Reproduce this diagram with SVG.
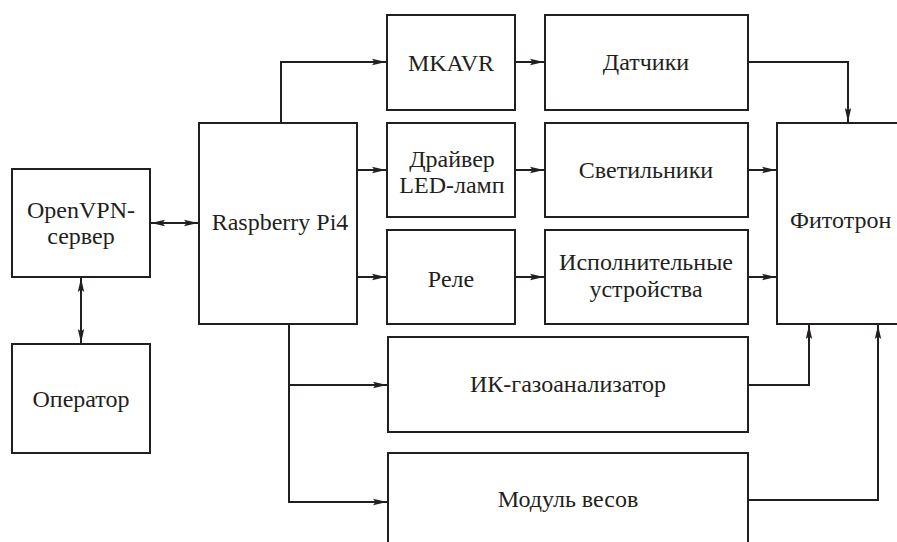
<svg xmlns="http://www.w3.org/2000/svg" width="897" height="542" viewBox="0 0 897 542">
<style>
  .box { fill: #ffffff; stroke: #231f20; stroke-width: 2; }
  .lbl { font-family: 'Liberation Serif', 'Times New Roman', Times, serif; font-size: 24px; fill: #231f20; text-anchor: middle; }
  .wire { fill: none; stroke: #231f20; stroke-width: 2; }
</style>
<defs>
  <marker id="arr" viewBox="0 0 14 8" refX="14" refY="4" markerWidth="14" markerHeight="8" markerUnits="userSpaceOnUse" orient="auto-start-reverse">
    <path d="M0,0.8 L14,4 L0,7.2 L2.5,4 Z" fill="#231f20"/>
  </marker>
</defs>
<rect width="897" height="542" fill="#ffffff"/>

<g id="connectors">
  <line class="wire" x1="151" y1="223" x2="198" y2="223" marker-start="url(#arr)" marker-end="url(#arr)"/>
  <line class="wire" x1="81" y1="278" x2="81" y2="343" marker-start="url(#arr)" marker-end="url(#arr)"/>
  <polyline class="wire" points="281,123 281,62 386,62" marker-end="url(#arr)"/>
  <line class="wire" x1="357" y1="170" x2="386" y2="170" marker-end="url(#arr)"/>
  <line class="wire" x1="357" y1="277" x2="386" y2="277" marker-end="url(#arr)"/>
  <line class="wire" x1="515" y1="62" x2="544" y2="62" marker-end="url(#arr)"/>
  <line class="wire" x1="515" y1="170" x2="544" y2="170" marker-end="url(#arr)"/>
  <line class="wire" x1="515" y1="277" x2="544" y2="277" marker-end="url(#arr)"/>
  <polyline class="wire" points="748,62 848,62 848,122" marker-end="url(#arr)"/>
  <line class="wire" x1="748" y1="170" x2="776" y2="170" marker-end="url(#arr)"/>
  <line class="wire" x1="748" y1="277" x2="776" y2="277" marker-end="url(#arr)"/>
  <line class="wire" x1="289" y1="324" x2="289" y2="503"/>
  <line class="wire" x1="288" y1="385" x2="387" y2="385" marker-end="url(#arr)"/>
  <polyline class="wire" points="288,502 387,502" marker-end="url(#arr)"/>
  <polyline class="wire" points="748,385 809,385 809,325" marker-end="url(#arr)"/>
  <polyline class="wire" points="748,500 878,500 878,325" marker-end="url(#arr)"/>
</g>

<g id="openvpn">
  <rect class="box" x="12" y="169" width="138" height="108"/>
  <text class="lbl" x="81" y="218" font-family="Liberation Serif">OpenVPN-</text>
  <text class="lbl" x="81" y="244" font-family="Liberation Serif">сервер</text>
</g>
<g id="operator">
  <rect class="box" x="12" y="344" width="138" height="109"/>
  <text class="lbl" x="81" y="407">Оператор</text>
</g>
<g id="raspberry">
  <rect class="box" x="199" y="123" width="158" height="201"/>
  <text class="lbl" x="280" y="230">Raspberry Pi4</text>
</g>
<g id="mkavr">
  <rect class="box" x="387" y="15" width="128" height="95"/>
  <text class="lbl" x="451" y="71">MKAVR</text>
</g>
<g id="driver">
  <rect class="box" x="387" y="123" width="128" height="94"/>
  <text class="lbl" x="452" y="167">Драйвер</text>
  <text class="lbl" x="452" y="193">LED-ламп</text>
</g>
<g id="rele">
  <rect class="box" x="387" y="230" width="128" height="94"/>
  <text class="lbl" x="451" y="287">Реле</text>
</g>
<g id="datchiki">
  <rect class="box" x="545" y="15" width="203" height="95"/>
  <text class="lbl" x="646" y="70">Датчики</text>
</g>
<g id="svetilniki">
  <rect class="box" x="545" y="123" width="203" height="94"/>
  <text class="lbl" x="646" y="178">Светильники</text>
</g>
<g id="ispolnitelnye">
  <rect class="box" x="545" y="230" width="203" height="94"/>
  <text class="lbl" x="646" y="270">Исполнительные</text>
  <text class="lbl" x="646" y="297">устройства</text>
</g>
<g id="fitotron">
  <rect class="box" x="777" y="123" width="140" height="201"/>
  <text class="lbl" x="790" y="228" style="text-anchor:start">Фитотрон</text>
</g>
<g id="ik">
  <rect class="box" x="388" y="337" width="360" height="95"/>
  <text class="lbl" x="568" y="392">ИК-газоанализатор</text>
</g>
<g id="modul">
  <rect class="box" x="388" y="453" width="360" height="110"/>
  <text class="lbl" x="568" y="507">Модуль весов</text>
</g>
</svg>
